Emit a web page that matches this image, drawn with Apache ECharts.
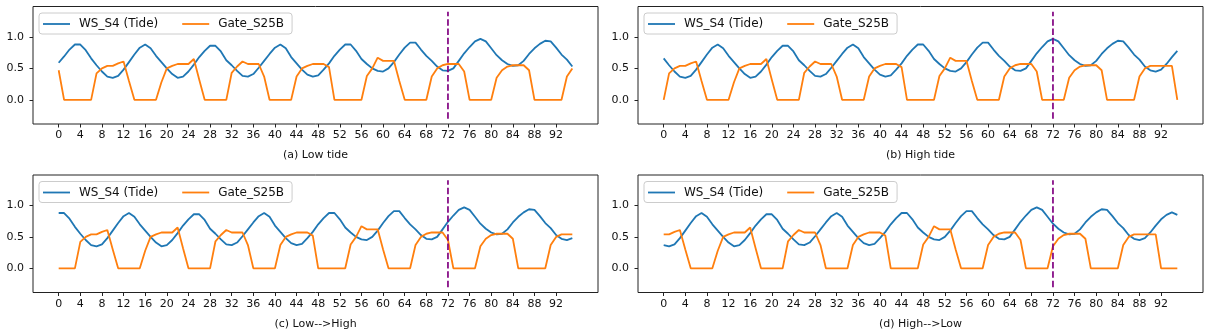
<!DOCTYPE html>
<html>
<head>
<meta charset="utf-8">
<script src="https://cdn.jsdelivr.net/npm/echarts@6.0.0/dist/echarts.min.js"></script>
<style>
  html, body { margin: 0; padding: 0; background: #fff; }
  #chart { width: 1213px; height: 336px; }
</style>
</head>
<body>
<div id="chart"></div>
<script>
// one long record; every panel is a 96-step window of it
var tideLevel = [
  0.59, 0.69, 0.80, 0.88, 0.88, 0.79, 0.66, 0.55, 0.45, 0.37,
  0.35, 0.38, 0.48, 0.60, 0.72, 0.83, 0.88, 0.82, 0.70, 0.60,
  0.50, 0.41, 0.35, 0.37, 0.45, 0.56, 0.68, 0.78, 0.86, 0.86,
  0.77, 0.63, 0.55, 0.46, 0.38, 0.37, 0.41, 0.51, 0.62, 0.73,
  0.83, 0.88, 0.82, 0.68, 0.58, 0.48, 0.40, 0.37, 0.39, 0.48,
  0.58, 0.70, 0.80, 0.88, 0.88, 0.78, 0.65, 0.57, 0.50, 0.46,
  0.45, 0.50, 0.60, 0.72, 0.83, 0.91, 0.91, 0.80, 0.70, 0.62,
  0.53, 0.47, 0.46, 0.50, 0.62, 0.74, 0.84, 0.93, 0.97, 0.93,
  0.82, 0.71, 0.63, 0.57, 0.54, 0.55, 0.62, 0.73, 0.82, 0.89,
  0.94, 0.93, 0.83, 0.72, 0.64, 0.53, 0.47, 0.45, 0.48, 0.57,
  0.68, 0.78, 0.85, 0.89, 0.85
];
var gateOpen = [
  0.47, 0, 0, 0, 0, 0, 0, 0.42, 0.50, 0.54,
  0.54, 0.58, 0.61, 0.30, 0, 0, 0, 0, 0, 0.28,
  0.50, 0.54, 0.57, 0.57, 0.57, 0.65, 0.32, 0, 0, 0,
  0, 0, 0.43, 0.53, 0.61, 0.57, 0.57, 0.57, 0.37, 0,
  0, 0, 0, 0, 0.37, 0.50, 0.54, 0.57, 0.57, 0.57,
  0.52, 0, 0, 0, 0, 0, 0, 0.38, 0.50, 0.67,
  0.62, 0.62, 0.62, 0.30, 0, 0, 0, 0, 0, 0.37,
  0.50, 0.55, 0.57, 0.57, 0.57, 0.45, 0, 0, 0, 0,
  0, 0.35, 0.47, 0.53, 0.55, 0.55, 0.55, 0.47, 0, 0,
  0, 0, 0, 0, 0.37, 0.50, 0.54, 0.54, 0.54, 0.54,
  0.54, 0, 0, 0, 0
];
var panelTitles = ['(a) Low tide', '(b) High tide', '(c) Low-->High', '(d) High-->Low'];
var panelOffsets = [0, 6, 3, 9];
var windowLen = 96;
var xTicks = [0, 4, 8, 12, 16, 20, 24, 28, 32, 36, 40, 44, 48, 52, 56, 60, 64, 68, 72, 76, 80, 84, 88, 92];
var yTicks = [0, 0.5, 1.0];
var eventStep = 72;
var eventSpan = [-0.3, 1.4];
var seriesNames = ['WS_S4 (Tide)', 'Gate_S25B'];

var FONT = 'DejaVu Sans';
var chart = echarts.init(document.getElementById('chart'), null, {renderer: 'canvas'});

// panel boxes (axes area in px)
var boxes = [
  {left: 33, top: 6.5},
  {left: 638, top: 6.5},
  {left: 33, top: 175},
  {left: 638, top: 175}
];
var W = 565, H = 117.5;

var grids = [], xAxes = [], yAxes = [], legends = [], series = [];

boxes.forEach(function (b, k) {
  grids.push({
    left: b.left, top: b.top, width: W, height: H,
    show: true, borderColor: '#222', borderWidth: 1, backgroundColor: 'transparent'
  });
  xAxes.push({
    type: 'value', gridIndex: k, min: -4.75, max: 99.75,
    name: panelTitles[k], nameLocation: 'middle', nameGap: 26,
    nameTextStyle: {fontFamily: FONT, fontSize: 11, color: '#111', verticalAlign: 'top'},
    axisLine: {show: false, onZero: false},
    splitLine: {show: false},
    axisTick: {show: true, inside: false, length: 3.5, customValues: xTicks, lineStyle: {color: '#222', width: 1}},
    axisLabel: {customValues: xTicks, margin: 6, fontFamily: FONT, fontSize: 11, color: '#111'}
  });
  yAxes.push({
    type: 'value', gridIndex: k, min: -0.385, max: 1.485,
    axisLine: {show: false, onZero: false},
    splitLine: {show: false},
    axisTick: {show: true, inside: false, length: 3.5, customValues: yTicks, lineStyle: {color: '#222', width: 1}},
    axisLabel: {
      customValues: yTicks, margin: 9, fontFamily: FONT, fontSize: 11, color: '#111',
      formatter: function (v) { return v.toFixed(1); }
    }
  });
  legends.push({
    data: seriesNames,
    left: b.left + 6, top: b.top + 6.5,
    orient: 'horizontal',
    icon: 'rect', itemWidth: 27, itemHeight: 1.8, itemGap: 24,
    padding: [5, 8, 4, 4],
    backgroundColor: 'rgba(255,255,255,0.8)',
    borderColor: '#cccccc', borderWidth: 1, borderRadius: 3,
    textStyle: {fontFamily: FONT, fontSize: 12, color: '#111', padding: [0, 0, 0, 4]},
    selectedMode: false
  });

  var off = panelOffsets[k];
  var tide = tideLevel.slice(off, off + windowLen).map(function (v, i) { return [i, v]; });
  var gate = gateOpen.slice(off, off + windowLen).map(function (v, i) { return [i, v]; });

  series.push({
    name: seriesNames[0], type: 'line', xAxisIndex: k, yAxisIndex: k,
    data: tide, showSymbol: false, symbol: 'none',
    lineStyle: {color: '#1f77b4', width: 1.8}, itemStyle: {color: '#1f77b4'}
  });
  series.push({
    name: seriesNames[1], type: 'line', xAxisIndex: k, yAxisIndex: k,
    data: gate, showSymbol: false, symbol: 'none',
    lineStyle: {color: '#ff7f0e', width: 1.8}, itemStyle: {color: '#ff7f0e'}
  });
  // vertical dashed marker
  series.push({
    type: 'line', xAxisIndex: k, yAxisIndex: k,
    data: [[eventStep, eventSpan[0]], [eventStep, eventSpan[1]]],
    showSymbol: false, symbol: 'none', silent: true,
    lineStyle: {color: '#800080', width: 1.7, type: [6.5, 2.8]}
  });
});

chart.setOption({
  animation: false,
  backgroundColor: '#fff',
  grid: grids,
  xAxis: xAxes,
  yAxis: yAxes,
  legend: legends,
  series: series
});
</script>
</body>
</html>
